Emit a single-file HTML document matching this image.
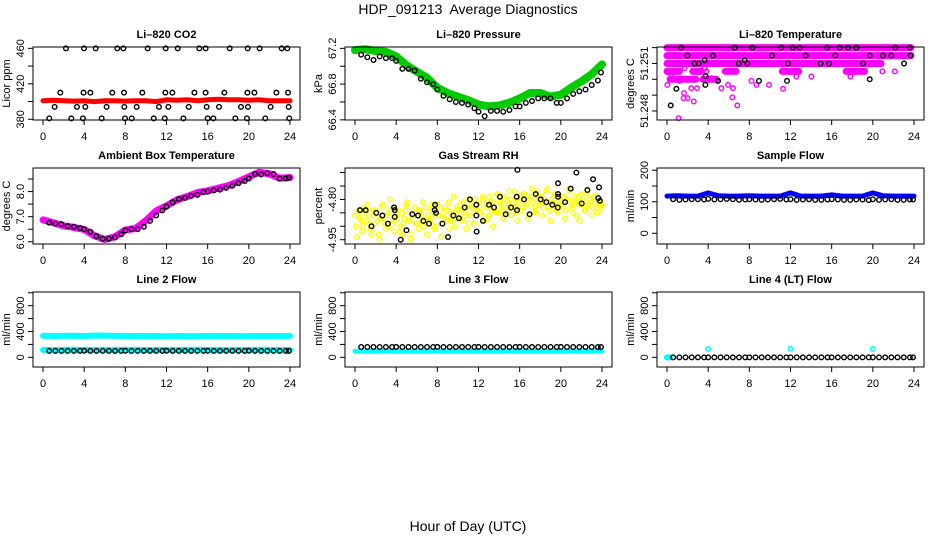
<!DOCTYPE html>
<html><head><meta charset="utf-8"><style>
html,body{margin:0;padding:0;background:#fff;}
svg{display:block;font-family:"Liberation Sans",sans-serif;}
</style></head><body>
<svg id="chart" width="936" height="540" viewBox="0 0 936 540" xmlns="http://www.w3.org/2000/svg">
<rect width="936" height="540" fill="#fff"/>
<text x="468" y="14" text-anchor="middle" font-size="14" xml:space="preserve">HDP_091213&#160; Average Diagnostics</text>
<text x="468" y="531" text-anchor="middle" font-size="14">Hour of Day (UTC)</text>
</svg>
<script>
const xTicks = [0,4,8,12,16,20,24];
const hourly = [0,1,2,3,4,5,6,7,8,9,10,11,12,13,14,15,16,17,18,19,20,21,22,23,24];
const sampleHours = [0.6,1.2,1.8,2.4,3.0,3.6,4.0,4.6,5.2,5.8,6.4,7.0,7.6,8.0,8.6,9.2,9.8,10.4,11.0,11.6,12.0,12.6,13.2,13.8,14.4,15.0,15.6,16.0,16.6,17.2,17.8,18.4,19.0,19.6,20.0,20.6,21.2,21.8,22.4,23.0,23.6,23.9];

// CO2
const co2Red = [401,401.5,401,400.5,401,400,401,401,400.5,401,401,400,402,401.5,402,401,402,402.5,402,402,401.5,402,401,401,401];
const co2BlackHours = [2.23,3.98,5.12,7.22,7.81,10.17,11.92,13.09,15.19,15.8,18.14,19.89,21.05,23.19,23.74,
 1.68,3.94,4.6,6.73,7.87,9.65,11.89,12.57,14.71,15.8,17.62,19.86,20.54,22.68,23.81,
 1.13,3.3,4.11,6.18,7.9,9.1,11.27,12.18,14.16,15.9,17.1,19.24,19.92,22.12,23.87,
 0.61,2.75,3.88,5.7,7.97,8.62,10.76,11.83,13.64,16,16.55,18.69,19.82,21.6,23.93];
const co2BlackVals = [460,460,460,460,460,460,460,460,460,460,460,460,460,460,460,
 410,410,410,410,410,410,410,410,410,410,410,410,410,410,410,
 394,394,394,394,394,394,394,394,394,394,394,394,394,394,394,
 381,381,381,381,381,381,381,381,381,381,381,381,381,381,381];

// Pressure
const presGreen = [67.18,67.19,67.17,67.16,67.11,67.01,66.94,66.87,66.76,66.70,66.66,66.62,66.57,66.55,66.56,66.59,66.64,66.70,66.70,66.66,66.68,66.76,66.83,66.91,67.02];
const presBlack = [67.13,67.10,67.07,67.11,67.09,67.09,67.06,66.97,66.97,66.95,66.86,66.82,66.80,66.74,66.67,66.63,66.60,66.59,66.57,66.53,66.49,66.44,66.50,66.50,66.49,66.51,66.55,66.55,66.59,66.61,66.64,66.64,66.64,66.59,66.59,66.64,66.69,66.72,66.74,66.79,66.84,66.93];

// Li-820 temperature
const tempBandStart = [0,0,0,0,2.5,5.7,11.2,17.4,0.3,3.5];
const tempBandEnd = [23.7,23.7,20.8,1.2,3.3,6.7,12.8,19.2,2.8,4.8];
const tempBandLevel = [51.252,51.2515,51.251,51.2505,51.2505,51.2505,51.2505,51.2505,51.25,51.25];
const tempMagHours = [0.03,0.42,0.10,0.91,1.23,1.72,2.20,2.36,2.92,3.01,1.65,1.62,1.13,3.82,4.31,4.96,5.28,5.93,6.41,6.35,6.83,8.20,8.68,9.91,11.27,11.27,11.92,12.57,14.03,17.59,17.82,19.21,20.93,22.13,3.66,5.6,2.0,2.6];
const tempMagVals = [51.24965,51.25018,51.25045,51.25,51.2499,51.2507,51.25,51.24944,51.24944,51.25045,51.24913,51.24881,51.24755,51.2505,51.25007,51.2499,51.24944,51.24965,51.24944,51.24886,51.24835,51.2499,51.24965,51.24965,51.2494,51.2505,51.2505,51.25018,51.25018,51.2505,51.25018,51.2505,51.2505,51.2505,51.2507,51.2505,51.24881,51.2486];
const tempBlackHours = [0.36,0.91,1.39,1.98,2.69,3.08,3.66,3.73,3.76,4.47,4.96,6.58,6.97,7.55,7.81,8.29,8.94,10.20,11.11,11.66,11.76,12.24,12.89,13.48,14.93,15.58,15.74,16.36,16.78,17.59,18.40,19.05,19.70,19.70,20.99,21.80,22.19,23.03,23.58,23.68];
const tempBlackVals = [51.24835,51.2494,51.252,51.2515,51.251,51.251,51.2512,51.24965,51.2502,51.2515,51.2499,51.252,51.251,51.2512,51.251,51.252,51.2499,51.2515,51.252,51.2499,51.251,51.252,51.252,51.2515,51.251,51.252,51.251,51.2515,51.252,51.252,51.252,51.251,51.25,51.2515,51.2515,51.2515,51.252,51.251,51.252,51.2515];

// Ambient box temperature
const ambMag = [6.87,6.76,6.63,6.57,6.49,6.24,6.09,6.2,6.47,6.53,6.84,7.23,7.43,7.67,7.8,7.96,8.03,8.13,8.24,8.4,8.59,8.77,8.71,8.53,8.56];
const ambBlack = [6.76,6.72,6.70,6.62,6.60,6.55,6.50,6.40,6.22,6.12,6.12,6.17,6.30,6.45,6.50,6.50,6.60,6.83,7.05,7.25,7.40,7.57,7.70,7.75,7.83,7.87,7.98,8.00,8.05,8.08,8.15,8.23,8.33,8.42,8.52,8.70,8.68,8.73,8.70,8.52,8.52,8.55];

// Gas stream RH
const rhYellowA = [-4.86,-4.94,-4.84,-4.88,-4.90,-4.85,-4.82,-4.89,-4.93,-4.86,-4.84,
 -4.88,-4.95,-4.83,-4.87,-4.91,-4.85,-4.80,-4.89,-4.92,-4.86,
 -4.84,-4.90,-4.93,-4.87,-4.82,-4.88,-4.95,-4.86,-4.83,-4.89,
 -4.91,-4.85,-4.81,-4.88,-4.93,-4.87,-4.84,-4.90,-4.86,-4.82,
 -4.89,-4.94,-4.85,-4.83,-4.88,-4.91,-4.86,-4.79,-4.87,-4.84,
 -4.82,-4.88,-4.85,-4.91,-4.80,-4.86,-4.83,-4.89,-4.84,-4.81,
 -4.85,-4.79,-4.88,-4.83,-4.86,-4.81,-4.90,-4.84,-4.78,-4.85,
 -4.82,-4.87,-4.80,-4.84,-4.77,-4.86,-4.81,-4.83,-4.88,-4.79,
 -4.84,-4.78,-4.82,-4.87,-4.80,-4.76,-4.83,-4.85,-4.79,-4.81,
 -4.86,-4.80,-4.77,-4.83,-4.88,-4.81,-4.78,-4.84,-4.82,-4.79,
 -4.83,-4.87,-4.80,-4.76,-4.82,-4.85,-4.79,-4.81,-4.88,-4.78,
 -4.82,-4.84,-4.77,-4.80,-4.86,-4.79,-4.83,-4.81,-4.84,-4.82];
const rhYellowB = [-4.90,-4.85,-4.87,-4.92,-4.83,-4.88,-4.86,-4.91,-4.84,-4.89,
 -4.85,-4.93,-4.87,-4.82,-4.89,-4.86,-4.90,-4.84,-4.88,-4.83,
 -4.87,-4.92,-4.85,-4.89,-4.84,-4.81,-4.88,-4.93,-4.86,-4.85,
 -4.89,-4.84,-4.87,-4.90,-4.83,-4.86,-4.88,-4.82,-4.91,-4.85,
 -4.86,-4.83,-4.89,-4.87,-4.84,-4.81,-4.88,-4.85,-4.90,-4.83,
 -4.84,-4.87,-4.81,-4.86,-4.83,-4.89,-4.82,-4.85,-4.80,-4.84,
 -4.83,-4.86,-4.80,-4.82,-4.87,-4.79,-4.84,-4.81,-4.85,-4.78,
 -4.81,-4.84,-4.79,-4.86,-4.82,-4.80,-4.83,-4.77,-4.85,-4.81,
 -4.80,-4.83,-4.78,-4.82,-4.86,-4.79,-4.81,-4.84,-4.77,-4.82,
 -4.79,-4.83,-4.81,-4.76,-4.84,-4.80,-4.82,-4.78,-4.85,-4.81,
 -4.82,-4.79,-4.84,-4.80,-4.77,-4.83,-4.81,-4.86,-4.79,-4.82,
 -4.80,-4.84,-4.78,-4.82,-4.81,-4.83,-4.79,-4.85,-4.81,-4.82];
const rhBlackHours = [0.49,1.04,1.6,2.07,2.66,3.2,3.79,3.86,3.86,4.44,5.0,5.57,6.12,6.64,7.19,7.78,7.74,7.87,8.49,9.04,9.56,10.1,10.66,11.17,11.79,11.79,11.82,12.43,13.02,13.51,14.08,14.64,15.16,15.71,15.78,15.74,16.42,16.97,17.56,18.04,18.59,19.17,19.73,19.73,19.73,19.7,20.41,20.96,21.51,22.03,22.58,23.13,23.71,23.64,23.8];
const rhBlackVals = [-4.84,-4.84,-4.9,-4.85,-4.86,-4.89,-4.83,-4.84,-4.865,-4.95,-4.915,-4.855,-4.86,-4.88,-4.89,-4.82,-4.84,-4.85,-4.89,-4.94,-4.86,-4.87,-4.83,-4.8,-4.82,-4.86,-4.92,-4.88,-4.82,-4.83,-4.79,-4.855,-4.83,-4.79,-4.69,-4.84,-4.8,-4.855,-4.78,-4.8,-4.81,-4.82,-4.74,-4.78,-4.79,-4.83,-4.81,-4.76,-4.7,-4.815,-4.765,-4.725,-4.755,-4.795,-4.805];

// Sample flow
const sfBlue = [118,119,118,118,128,119,118,118,119,118,118,118,128,118,118,118,122,118,118,118,128,119,118,118,118];
const sfBlack = [108,106,107,108,108,107,109,107,108,109,108,106,107,108,107,106,107,108,109,107,108,106,107,108,106,106,107,108,107,106,106,107,107,105,108,106,107,108,106,106,107,107];

// Line 2 flow
const l2CyanUpper = [335,330,332,334,328,338,336,332,330,331,329,330,325,330,328,329,332,330,331,329,328,330,331,330,332];
const l2CyanLower = [115,114,115,116,115,114,115,115,116,115,114,115,115,114,115,116,115,115,114,115,115,116,115,114,115];
const l2Black = [100,100,100,100,100,100,101,100,100,100,100,100,100,101,100,100,100,100,100,100,101,100,100,100,100,100,100,101,100,100,100,100,100,100,101,100,100,100,100,100,100,100];

// Line 3 flow
const l3Cyan = [95,94,95,96,95,94,95,95,96,95,94,95,95,94,95,96,95,95,94,95,95,96,95,94,95];
const l3Black = [160,160,160,160,160,160,161,160,160,160,160,160,160,161,160,160,160,160,160,160,161,160,160,160,160,160,160,161,160,160,160,160,160,160,161,160,160,160,160,160,160,160];

// Line 4 flow
const l4CyanHours = [0,0.1,0.2,0.3,4,12,20];
const l4CyanVals = [0,0,0,0,130,130,130];
const l4Black = [0,0,0,0,0,0,0,0,0,0,0,0,0,0,0,0,0,0,0,0,0,0,0,0,0,0,0,0,0,0,0,0,0,0,0,0,0,0,0,0,0,0];

// y-axis tick values / labels
const p1Ticks = [380,400,420,440,460], p1Labels = ["380","420","460"];
const p2Ticks = [66.4,66.6,66.8,67.0,67.2], p2Labels = ["66.4","66.8","67.2"];
const p3Ticks = [51.248,51.249,51.25,51.251,51.252], p3Labels = ["51.248","51.251"];
const p4Ticks = [6.0,6.5,7.0,7.5,8.0,8.5], p4Labels = ["6.0","7.0","8.0"];
const p5Ticks = [-4.95,-4.9,-4.85,-4.8,-4.75,-4.7], p5Labels = ["-4.95","-4.80"];
const p6Ticks = [0,50,100,150,200], p6Labels = ["0","100","200"];
const flowTicks = [0,200,400,600,800,1000], flowLabels = ["0","400","800"];

const NS = "http://www.w3.org/2000/svg";
const svg = document.getElementById("chart");
const rowTop = [47,168,292], rowBot = [120,244,367];

function mk(tag, attrs, parent){
  const e = document.createElementNS(NS, tag);
  for (const k in attrs) e.setAttribute(k, attrs[k]);
  (parent||svg).appendChild(e);
  return e;
}

function makePanel(col,row,name,title,ytitle,ymin,ymax,ticks,labels){
  const g = mk("g",{});
  
  
  const x0 = 43+312*col, top=rowTop[row], bot=rowBot[row];
  const P = {g, sx:h=>x0+h*247/24, sy:v=>top+(ymax-v)/(ymax-ymin)*(bot-top), top, bot, left:x0-10, right:x0+257};
  const t = mk("text",{x:(P.left+P.right)/2,y:top-9,"text-anchor":"middle","font-size":"11","font-weight":"bold"},g);
  t.textContent = title;
  
  
  const plot = mk("g",{},g);
  
  
  P.plot = plot;
  const box = mk("rect",{x:P.left,y:top,width:P.right-P.left,height:bot-top,fill:"none",stroke:"#000","stroke-width":"1"},g);
  
  
  const xa = mk("g",{},g);
  
  
  xTicks.forEach(v=>{
    mk("line",{x1:P.sx(v),x2:P.sx(v),y1:bot,y2:bot+5,stroke:"#000"},xa);
    const l = mk("text",{x:P.sx(v),y:bot+20,"text-anchor":"middle","font-size":"11"},xa);
    l.textContent = v;
    
    
  });
  const ya = mk("g",{},g);
  
  
  mk("line",{x1:P.left,x2:P.left,y1:P.sy(ticks[0]),y2:P.sy(ticks[ticks.length-1]),stroke:"#000"},ya);
  ticks.forEach(v=>{
    mk("line",{x1:P.left-5,x2:P.left,y1:P.sy(v),y2:P.sy(v),stroke:"#000"},ya);
  });
  labels.forEach(s=>{
    const y = P.sy(parseFloat(s));
    const l = mk("text",{x:P.left-9,y:y,"text-anchor":"middle","font-size":"11",transform:`rotate(-90 ${P.left-9} ${y})`},ya);
    l.textContent = s;
    
    
  });
  const yt = mk("text",{x:P.left-23,y:(top+bot)/2,"text-anchor":"middle","font-size":"11",transform:`rotate(-90 ${P.left-23} ${(top+bot)/2})`},g);
  yt.textContent = ytitle;
  
  
  return P;
}

function pts(P,hours,vals,color,name){
  const g = mk("g",{},P.plot);
  
  
  vals.forEach((v,i)=>{
    const c = mk("circle",{cx:P.sx(hours[i]),cy:P.sy(v),r:2.3,fill:"none",stroke:color,"stroke-width":"1.4"},g);
    
    
  });
}
function band(P,hours,vals,color,w,name){
  const d = vals.map((v,i)=>(i?"L":"M")+P.sx(hours[i]).toFixed(1)+","+P.sy(v).toFixed(1)).join("");
  const p = mk("path",{d:d,fill:"none",stroke:color,"stroke-width":w,"stroke-linecap":"round","stroke-linejoin":"round"},P.plot);
  
  
}

// Panel 1
let P = makePanel(0,0,"co2-panel","Li\u2013820 CO2","Licor ppm",379.2,461.5,p1Ticks,p1Labels);
pts(P,co2BlackHours,co2BlackVals,"#000","co2-black-points");
band(P,hourly,co2Red,"#ff0000",5,"co2-red-series");

// Panel 2
P = makePanel(1,0,"pressure-panel","Li\u2013820 Pressure","kPa",66.398,67.215,p2Ticks,p2Labels);
band(P,hourly,presGreen,"#00cc00",8,"pressure-green-series");
pts(P,sampleHours,presBlack,"#000","pressure-black-points");

// Panel 3
P = makePanel(2,0,"temperature-panel","Li\u2013820 Temperature","degrees C",51.24743,51.25204,p3Ticks,p3Labels);
tempBandLevel.forEach((lv,i)=>{
  band(P,[tempBandStart[i],tempBandEnd[i]],[lv,lv],"#ff00ff",7,"temp-magenta-band");
});
pts(P,tempMagHours,tempMagVals,"#ff00ff","temp-magenta-points");
pts(P,tempBlackHours,tempBlackVals,"#000","temp-black-points");

// Panel 4
P = makePanel(0,1,"ambient-panel","Ambient Box Temperature","degrees C",5.91,8.94,p4Ticks,p4Labels);
band(P,hourly,ambMag,"#ff00ff",7,"ambient-magenta-series");
pts(P,sampleHours,ambBlack,"#000","ambient-black-points");

// Panel 5
P = makePanel(1,1,"rh-panel","Gas Stream RH","percent",-4.966,-4.683,p5Ticks,p5Labels);
pts(P,rhYellowA.map((v,i)=>i*0.2),rhYellowA,"#ffff00","rh-yellow-points-a");
pts(P,rhYellowB.map((v,i)=>0.1+i*0.2),rhYellowB,"#ffff00","rh-yellow-points-b");
pts(P,rhBlackHours,rhBlackVals,"#000","rh-black-points");

// Panel 6
P = makePanel(2,1,"sample-flow-panel","Sample Flow","ml/min",-34,207,p6Ticks,p6Labels);
band(P,hourly,sfBlue,"#0000ff",5,"sample-flow-blue-series");
pts(P,sampleHours,sfBlack,"#000","sample-flow-black-points");

// Panel 7
P = makePanel(0,2,"line2-panel","Line 2 Flow","ml/min",-150,1012,flowTicks,flowLabels);
band(P,hourly,l2CyanUpper,"#00ffff",6,"line2-cyan-upper");
band(P,hourly,l2CyanLower,"#00ffff",6,"line2-cyan-lower");
pts(P,sampleHours,l2Black,"#000","line2-black-points");

// Panel 8
P = makePanel(1,2,"line3-panel","Line 3 Flow","ml/min",-150,1012,flowTicks,flowLabels);
band(P,hourly,l3Cyan,"#00ffff",5,"line3-cyan-series");
pts(P,sampleHours,l3Black,"#000","line3-black-points");

// Panel 9
P = makePanel(2,2,"line4-panel","Line 4 (LT) Flow","ml/min",-150,1012,flowTicks,flowLabels);
pts(P,l4CyanHours,l4CyanVals,"#00ffff","line4-cyan-points");
pts(P,sampleHours,l4Black,"#000","line4-black-points");
</script>
</body></html>
